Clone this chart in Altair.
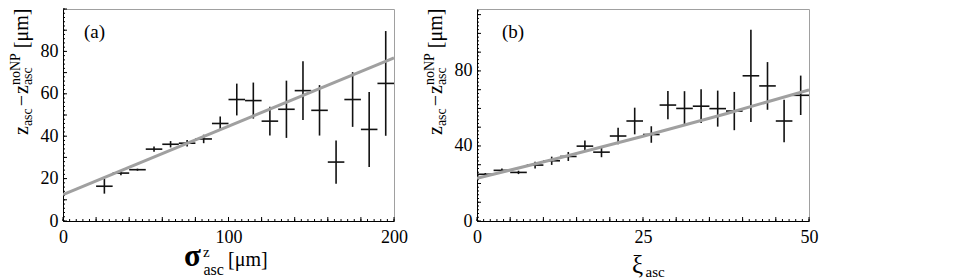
import altair as alt
import pandas as pd

FONT = "Liberation Serif"

# ---------------- panel (a) data ----------------
a_x = [25, 35, 45, 55, 65, 75, 85, 95, 105, 115, 125, 135, 145, 155, 165, 175, 185, 195]
a_y = [16.4, 22.6, 24.2, 33.9, 36.2, 36.7, 38.7, 46.0, 57.3, 56.8, 47.1, 52.7, 61.5, 52.2, 27.8, 57.3, 43.2, 64.9]
a_err = [3.5, 1.0, 0.5, 1.2, 1.5, 1.5, 2.0, 3.3, 7.5, 8.5, 6.8, 13.5, 13.8, 11.9, 10.2, 12.9, 17.7, 24.7]
a_halfwidth = 5.0
a_fit_x = [0, 200]
a_fit_y = [12.5, 76.9]
a_xlabels = [0, 100, 200]
a_ylabels = [0, 20, 40, 60, 80]
a_xmajor = list(range(0, 201, 20))
a_xminor = list(range(0, 201, 4))
a_ymajor = list(range(0, 101, 10))
a_yminor = list(range(0, 101, 2))

# ---------------- panel (b) data ----------------
b_x = [1.25, 3.75, 6.25, 8.75, 11.25, 13.75, 16.25, 18.75, 21.25, 23.75,
       26.25, 28.75, 31.25, 33.75, 36.25, 38.75, 41.25, 43.75, 46.25, 48.75]
b_y = [24.9, 27.0, 25.9, 29.8, 32.1, 34.4, 39.9, 36.7, 45.3, 53.3,
       46.1, 61.8, 60.0, 61.2, 59.9, 58.6, 77.4, 72.0, 53.3, 67.0]
b_err = [0.7, 1.0, 0.9, 1.8, 2.2, 2.4, 3.0, 2.7, 4.4, 7.1,
         4.4, 7.5, 9.2, 9.0, 9.6, 10.2, 24.6, 12.7, 11.3, 10.5]
b_halfwidth = 1.25
b_fit_x = [0, 12.5, 25, 37.5, 50]
b_fit_y = [22.8, 33.7, 45.2, 57.2, 69.9]
b_xlabels = [0, 25, 50]
b_ylabels = [0, 40, 80]
b_xmajor = list(range(0, 51, 5))
b_xminor = list(range(0, 51, 1))
b_ymajor = list(range(0, 111, 10))
b_yminor = list(range(0, 113, 2))

# ---------------- text pieces ----------------
B = -35
ytitle_pieces = [
    ("z", B, 126, 20, "normal"), ("asc", B + 4, 117.1, 14, "normal"), ("\u2212", B, 97.2, 20, "normal"),
    ("z", B, 85, 20, "normal"), ("asc", B + 4, 76.1, 14, "normal"), ("noNP", B - 8, 76.1, 14, "normal"),
    ("[\u03bcm]", B, 39.2, 20, "normal"),
]
a_xtitle_pieces = [("\u03c3", 121, 257, 31, "bold"), ("z", 140, 248, 15, "normal"),
                   ("asc", 140.5, 266, 16, "normal"), ("[\u03bcm]", 165, 257, 20, "normal")]
b_xtitle_pieces = [("\u03be", 155, 264, 25, "normal"), ("asc", 168.5, 268, 15, "normal")]

W_A, W_B, H = 331, 332, 212


def text_layer(t, x, y, size, angle=0, weight="normal"):
    return alt.Chart(pd.DataFrame({"k": [0]})).mark_text(
        text=t, align="left", baseline="alphabetic", font=FONT,
        fontSize=size, angle=angle, color="black", fontWeight=weight
    ).encode(x=alt.value(x), y=alt.value(y))


def panel(xs, ys, errs, hw, fx, fy, xdom, ydom, W, xlabels, ylabels,
          xmaj, xmin, ymaj, ymin, tag, xtitle):
    df = pd.DataFrame({
        "x": xs, "y": ys,
        "lo": [v - e for v, e in zip(ys, errs)],
        "hi": [v + e for v, e in zip(ys, errs)],
        "xl": [v - hw for v in xs],
        "xh": [v + hw for v in xs],
    })
    xsc = alt.Scale(domain=xdom, nice=False, zero=False)
    ysc = alt.Scale(domain=ydom, nice=False, zero=False)
    xax = alt.Axis(values=xlabels, title=None, ticks=False, tickSize=0, grid=False,
                   domain=True, domainColor="black", domainWidth=1,
                   labelFont=FONT, labelFontSize=18, labelColor="black",
                   labelPadding=7, labelFlush=False, labelOverlap=False)
    yax = alt.Axis(values=ylabels, title=None, ticks=False, tickSize=0, grid=False,
                   domain=True, domainColor="black", domainWidth=1,
                   labelFont=FONT, labelFontSize=18, labelColor="black",
                   labelPadding=5, labelFlush=False, labelOverlap=False)

    def X(f):
        return alt.X(f, type="quantitative", scale=xsc, axis=xax)

    def Y(f):
        return alt.Y(f, type="quantitative", scale=ysc, axis=yax)

    base = alt.Chart(df)
    vbar = base.mark_rule(color="#111111", strokeWidth=1.6).encode(
        x=X("x"), y=Y("lo"), y2="hi")
    hbar = base.mark_rule(color="#111111", strokeWidth=1.6).encode(
        x=X("xl"), x2="xh", y=Y("y"))
    fit = alt.Chart(pd.DataFrame({"x": fx, "y": fy})).mark_line(
        color="#a0a0a0", strokeWidth=3, clip=True).encode(x=X("x"), y=Y("y"))

    def xticks(vals, L):
        return alt.Chart(pd.DataFrame({"v": vals})).mark_rule(
            color="black", strokeWidth=1).encode(
            x=X("v"), y=alt.value(H), y2=alt.value(H - L))

    def yticks(vals, L):
        return alt.Chart(pd.DataFrame({"v": vals})).mark_rule(
            color="black", strokeWidth=1).encode(
            y=Y("v"), x=alt.value(0), x2=alt.value(L))

    layers = [xticks(xmin, 2), xticks(xmaj, 4), yticks(ymin, 2), yticks(ymaj, 4),
              vbar, hbar, fit]
    for t, x, y, s, w in ytitle_pieces:
        layers.append(text_layer(t, x, y, s, 270, w))
    for t, x, y, s, w in xtitle:
        layers.append(text_layer(t, x, y, s, 0, w))
    layers.append(text_layer(tag, 21 if tag == "(a)" else 25, 29, 19))
    return alt.layer(*layers).properties(width=W, height=H)


pa = panel(a_x, a_y, a_err, a_halfwidth, a_fit_x, a_fit_y, [0, 200], [0, 100], W_A,
           a_xlabels, a_ylabels, a_xmajor, a_xminor, a_ymajor, a_yminor, "(a)",
           a_xtitle_pieces)
pb = panel(b_x, b_y, b_err, b_halfwidth, b_fit_x, b_fit_y, [0, 50], [0, 113], W_B,
           b_xlabels, b_ylabels, b_xmajor, b_xminor, b_ymajor, b_yminor, "(b)",
           b_xtitle_pieces)

chart = alt.HConcatChart(hconcat=[pa, pb], spacing=83, bounds="flush", padding=0).configure(
    font=FONT
).configure_axis(
    labelFont=FONT, labelFontSize=18, labelColor="black"
).configure_view(
    stroke="#a0a0a0", strokeWidth=1)

chart.save("out.html", embed_options={"renderer": "svg", "actions": False})
